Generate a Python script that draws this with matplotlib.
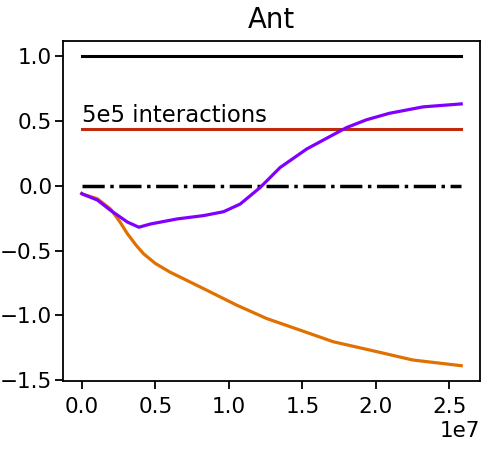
import numpy as np
import matplotlib
matplotlib.use("Agg")
import matplotlib.pyplot as plt

# values (x in env steps)
steps_purple = [0.0, 0.05e6, 1.06e6, 1.96e6, 3.1e6, 3.88e6, 4.67e6, 6.48e6, 8.29e6,
                9.64e6, 10.77e6, 12.13e6, 13.48e6, 15.3e6, 18.0e6, 19.35e6, 20.9e6,
                23.2e6, 25.8e6]
purple = [-0.06, -0.064, -0.11, -0.19, -0.28, -0.32, -0.295, -0.256, -0.23,
          -0.2, -0.141, -0.013, 0.141, 0.285, 0.45, 0.51, 0.56, 0.61, 0.633]

steps_orange = [0.0, 0.05e6, 1.06e6, 1.96e6, 2.6e6, 3.1e6, 3.7e6, 4.2e6, 5.0e6,
                6.0e6, 8.29e6, 10.55e6, 12.58e6, 14.84e6, 17.1e6, 20.0e6, 22.5e6,
                25.8e6]
orange = [-0.06, -0.064, -0.10, -0.18, -0.28, -0.37, -0.46, -0.525, -0.6,
          -0.667, -0.795, -0.923, -1.026, -1.115, -1.205, -1.28, -1.346, -1.39]

x_end = 25.8e6
top_level = 1.0
interactions_level = 0.44
zero_level = 0.0

plt.rcParams['font.size'] = 15.5
plt.rcParams['axes.linewidth'] = 1.3
fig = plt.figure(figsize=(4.87, 4.5), dpi=100)
ax = fig.add_axes([0.129, 0.153, 0.857, 0.756])

ax.plot([0, x_end], [top_level, top_level], color='black', lw=2.2)
ax.plot([0, x_end], [interactions_level, interactions_level], color='#bf2a0c', lw=2.2)
ax.plot([0, x_end], [zero_level, zero_level], color='black', lw=2.5, linestyle='-.')
ax.plot(steps_orange, orange, color='#e07000', lw=2.3)
ax.plot(steps_purple, purple, color='#8000ff', lw=2.3)

ax.text(0, interactions_level + 0.05, '5e5 interactions', fontsize=16.4)
ax.set_title('Ant', fontsize=19.8, pad=9)
ax.set_xticks([0, 0.5e7, 1.0e7, 1.5e7, 2.0e7, 2.5e7])
ax.set_yticks([-1.5, -1.0, -0.5, 0.0, 0.5, 1.0])
ax.tick_params(length=5.8, width=1.3, labelsize=15.5)
ax.tick_params(axis='x', pad=5.5)
ax.tick_params(axis='y', pad=1.8)
ax.xaxis.get_offset_text().set_fontsize(15.5)

fig.savefig('out.png', dpi=100)
